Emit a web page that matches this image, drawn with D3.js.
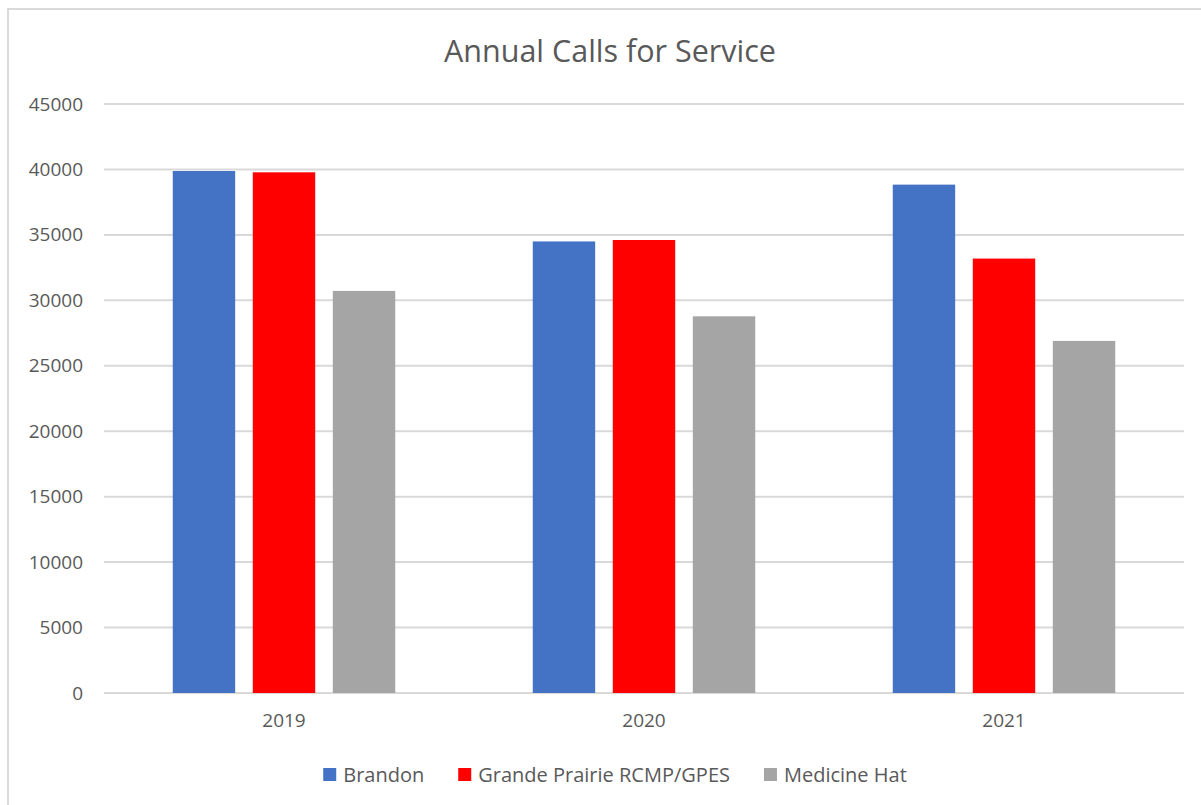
<!DOCTYPE html>
<html>
<head>
<meta charset="utf-8">
<script src="https://cdn.jsdelivr.net/npm/d3@7"></script>
<style>
  html, body { margin: 0; padding: 0; background: #fff; }
  svg { display: block; }
  text { font-family: "Open Sans", "Noto Sans", sans-serif; fill: #595959; }
</style>
</head>
<body>
<svg id="chart" width="1201" height="805"></svg>
<script>
// Annual calls for service by police service
const years = ["2019", "2020", "2021"];
const seriesNames = ["Brandon", "Grande Prairie RCMP/GPES", "Medicine Hat"];
const brandon = [39880, 34500, 38840];
const grandePrairie = [39780, 34610, 33190];
const medicineHat = [30720, 28780, 26900];
const seriesColors = ["#4472C4", "#FF0000", "#A5A5A5"];
const yTicks = [0, 5000, 10000, 15000, 20000, 25000, 30000, 35000, 40000, 45000];

const seriesValues = [brandon, grandePrairie, medicineHat];
const FONT = '"Open Sans", "Noto Sans", sans-serif';

const svg = d3.select("#chart");

// chart frame
svg.append("rect")
  .attr("x", 8).attr("y", 9)
  .attr("width", 1220).attr("height", 820)
  .attr("fill", "#fff")
  .attr("stroke", "#d9d9d9")
  .attr("stroke-width", 2);

const plot = { left: 104, right: 1184, top: 104, bottom: 693 };

const x0 = d3.scaleBand()
  .domain(years)
  .range([plot.left, plot.right]);

// bars sit in the middle ~62% of each category band, with small gaps between them
const groupWidth = x0.bandwidth() * 0.618;
const x1 = d3.scaleBand()
  .domain(seriesNames)
  .range([0, groupWidth])
  .paddingInner(0.22);

const y = d3.scaleLinear()
  .domain([0, 45000])
  .range([plot.bottom, plot.top]);

// gridlines
svg.append("g")
  .selectAll("line")
  .data(yTicks)
  .join("line")
  .attr("x1", plot.left).attr("x2", plot.right)
  .attr("y1", d => y(d)).attr("y2", d => y(d))
  .attr("stroke", "#d9d9d9")
  .attr("stroke-width", 2);

// y axis labels
const yAxis = d3.axisLeft(y).tickValues(yTicks).tickFormat(d3.format("d")).tickSize(0).tickPadding(0);
const gy = svg.append("g")
  .attr("transform", `translate(${plot.left - 21},0)`)
  .call(yAxis);
gy.select(".domain").remove();
gy.selectAll("text")
  .attr("font-size", 19)
  .attr("fill", "#595959")
  .style("font-family", FONT);

// x axis labels
const xAxis = d3.axisBottom(x0).tickSize(0).tickPadding(0);
const gx = svg.append("g")
  .attr("transform", `translate(0,${plot.bottom + 20})`)
  .call(xAxis);
gx.select(".domain").remove();
gx.selectAll("text")
  .attr("font-size", 19)
  .attr("fill", "#595959")
  .style("font-family", FONT);

// bars
const groups = svg.append("g")
  .selectAll("g")
  .data(years)
  .join("g")
  .attr("transform", d => `translate(${x0(d) + (x0.bandwidth() - groupWidth) / 2},0)`);

groups.selectAll("rect")
  .data((d, i) => seriesNames.map((s, k) => ({ s, k, v: seriesValues[k][i] })))
  .join("rect")
  .attr("x", d => x1(d.s))
  .attr("width", x1.bandwidth())
  .attr("y", d => y(d.v))
  .attr("height", d => y(0) - y(d.v))
  .attr("fill", d => seriesColors[d.k]);

// title
svg.append("text")
  .attr("x", 610).attr("y", 62)
  .attr("text-anchor", "middle")
  .attr("font-size", 30.5)
  .text("Annual Calls for Service");

// legend, laid out left to right and centred under the chart
const legendCenter = 615, legendY = 774.5, sw = 13, textGap = 7, itemGap = 34;
const legend = svg.append("g");
const items = legend.selectAll("g")
  .data(seriesNames)
  .join("g");
items.append("rect")
  .attr("x", 0).attr("y", legendY - sw / 2)
  .attr("width", sw).attr("height", sw)
  .attr("fill", (d, i) => seriesColors[i]);
items.append("text")
  .attr("x", sw + textGap).attr("y", legendY + 7)
  .attr("font-size", 20)
  .text(d => d);
const widths = [];
items.each(function () {
  widths.push(sw + textGap + d3.select(this).select("text").node().getComputedTextLength());
});
const total = d3.sum(widths) + itemGap * (widths.length - 1);
let cx = legendCenter - total / 2;
items.attr("transform", (d, i) => {
  const t = `translate(${cx},0)`;
  cx += widths[i] + itemGap;
  return t;
});
</script>
</body>
</html>
